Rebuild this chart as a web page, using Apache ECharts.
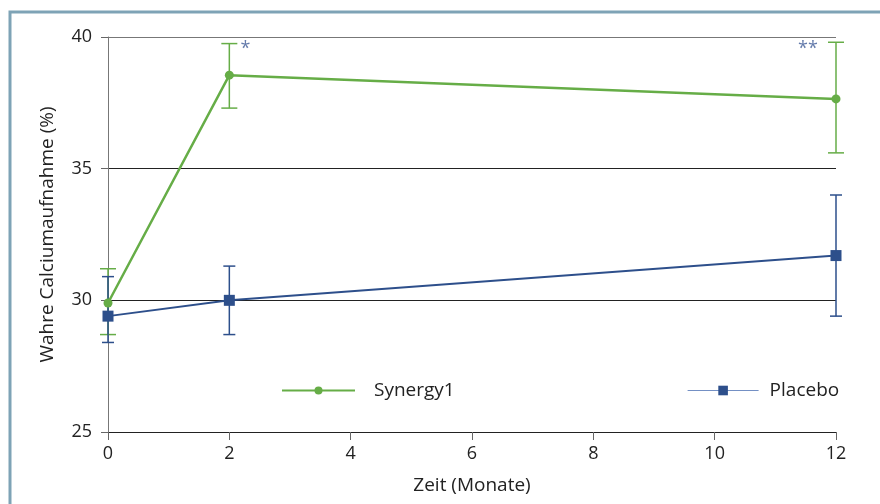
<!DOCTYPE html>
<html>
<head>
<meta charset="utf-8">
<script src="https://cdn.jsdelivr.net/npm/echarts@6/dist/echarts.min.js"></script>
<style>
  html, body { margin: 0; padding: 0; background: #fff; }
  #chart { width: 880px; height: 504px; }
</style>
</head>
<body>
<div id="chart"></div>
<script>
// months
const months = [0, 2, 12];
const xTicks = [0, 2, 4, 6, 8, 10, 12];
const yTicks = [25, 30, 35, 40];

// Synergy1 mean + error range
const synergyMean = [29.9, 38.55, 37.65];
const synergyLow = [28.7, 37.3, 35.6];
const synergyHigh = [31.2, 39.75, 39.8];

// Placebo mean + error range
const placeboMean = [29.4, 30.0, 31.7];
const placeboLow = [28.4, 28.7, 29.4];
const placeboHigh = [30.9, 31.3, 34.0];

// significance marks
const sigMonths = [2, 12];
const sigLabels = ['*', '**'];

const green = '#66ad47';
const blue = '#2d4f8b';
const font = 'Open Sans';

const chart = echarts.init(document.getElementById('chart'));

const errorSeries = (name, low, high, color, capW) => ({
  type: 'custom',
  name: name + '_err',
  z: 3,
  data: months.map((m, i) => [m, low[i], high[i]]),
  renderItem: (params, api) => {
    const lo = api.coord([api.value(0), api.value(1)]);
    const hi = api.coord([api.value(0), api.value(2)]);
    const st = { stroke: color, lineWidth: 1.5 };
    return {
      type: 'group',
      children: [
        { type: 'line', shape: { x1: lo[0], y1: lo[1], x2: hi[0], y2: hi[1] }, style: st },
        { type: 'line', shape: { x1: lo[0] - capW, y1: lo[1], x2: lo[0] + capW, y2: lo[1] }, style: st },
        { type: 'line', shape: { x1: hi[0] - capW, y1: hi[1], x2: hi[0] + capW, y2: hi[1] }, style: st }
      ]
    };
  }
});

chart.setOption({
  animation: false,
  textStyle: { fontFamily: font },
  graphic: [{
    type: 'rect',
    shape: { x: 10, y: 12, width: 900, height: 600 },
    style: { fill: 'none', stroke: '#7ea3b6', lineWidth: 3 },
    silent: true
  }],
  grid: { left: 108, right: 44, top: 37, bottom: 72 },
  legend: [
    {
      data: ['Synergy1'],
      left: 276, top: 376,
      itemWidth: 73, itemHeight: 10, itemGap: 10,
      textStyle: { fontFamily: font, fontSize: 19, color: '#222', padding: [0, 0, 0, 14] }
    },
    {
      data: ['Placebo'],
      left: 682, top: 376,
      itemWidth: 71, itemHeight: 12,
      lineStyle: { color: '#7490c4', width: 1.2 },
      textStyle: { fontFamily: font, fontSize: 19, color: '#222', padding: [0, 0, 0, 6] }
    }
  ],
  xAxis: {
    type: 'value',
    min: 0, max: 12, interval: 2,
    name: 'Zeit (Monate)',
    nameLocation: 'middle',
    nameGap: 44,
    nameTextStyle: { fontSize: 19, color: '#222' },
    axisLine: { lineStyle: { color: '#222', width: 1 } },
    axisTick: { show: true, length: 8, lineStyle: { color: '#666' } },
    axisLabel: { fontSize: 18, color: '#222', margin: 13,
      formatter: v => xTicks.includes(v) ? String(v) : '' },
    splitLine: { show: false }
  },
  yAxis: {
    type: 'value',
    min: 25, max: 40, interval: 5,
    name: 'Wahre Calciumaufnahme (%)',
    nameLocation: 'middle',
    nameGap: 51,
    nameTextStyle: { fontSize: 19, color: '#222' },
    axisLine: { show: true, lineStyle: { color: '#777', width: 1 } },
    axisTick: { show: true, inside: false, length: 7, lineStyle: { color: '#666' } },
    axisLabel: { fontSize: 18, color: '#222', margin: 16,
      formatter: v => yTicks.includes(v) ? String(v) : '' },
    splitLine: { show: true, lineStyle: { color: ['#222', '#222', '#222', '#777'], width: 1 } }
  },
  series: [
    errorSeries('Synergy1', synergyLow, synergyHigh, green, 8),
    errorSeries('Placebo', placeboLow, placeboHigh, blue, 6),
    {
      name: 'Synergy1',
      type: 'line',
      z: 4,
      data: months.map((m, i) => [m, synergyMean[i]]),
      symbol: 'circle',
      symbolSize: 9,
      itemStyle: { color: green },
      lineStyle: { color: green, width: 2.5 }
    },
    {
      name: 'Placebo',
      type: 'line',
      z: 4,
      data: months.map((m, i) => [m, placeboMean[i]]),
      symbol: 'rect',
      symbolSize: 11,
      itemStyle: { color: blue },
      lineStyle: { color: blue, width: 2 }
    },
    {
      type: 'scatter',
      name: 'sig',
      symbolSize: 0,
      z: 5,
      data: sigMonths.map((m, i) => ({ value: [m, 39.55], label: { offset: i === 0 ? [16, 0] : [-28, 0] } })),
      label: {
        show: true,
        position: 'inside',
        color: '#3d5a96',
        fontSize: 18,
        formatter: p => sigLabels[p.dataIndex]
      }
    }
  ]
});
</script>
</body>
</html>
